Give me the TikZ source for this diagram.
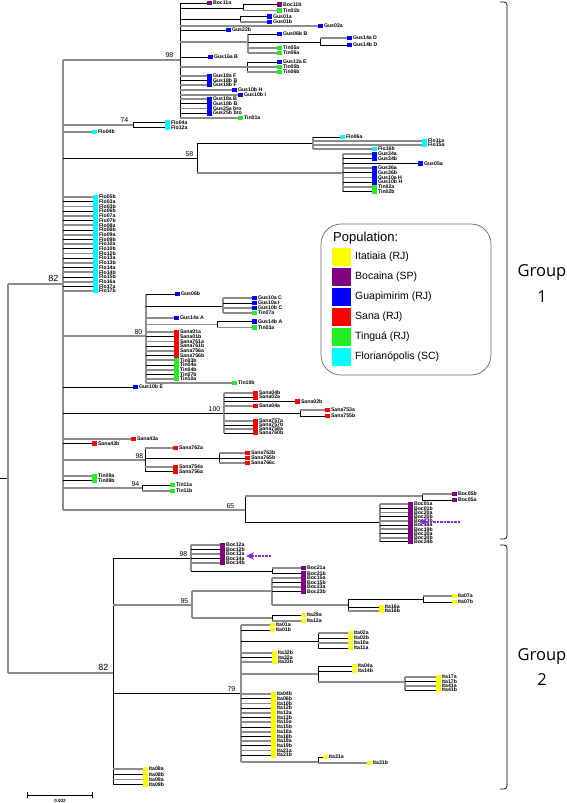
\documentclass[tikz,border=0pt]{standalone}
\usepackage{fontspec}
\setmainfont{Liberation Sans}
\newfontfamily\grpfont{Open Sans}
\usetikzlibrary{arrows.meta}
\definecolor{gline}{HTML}{8C8C8C}
\definecolor{cI}{HTML}{FFFF00}
\definecolor{cB}{HTML}{800080}
\definecolor{cG}{HTML}{0000FF}
\definecolor{cS}{HTML}{FF0000}
\definecolor{cT}{HTML}{22EE22}
\definecolor{cF}{HTML}{00FFFF}
\definecolor{arr}{HTML}{8A2BE2}
\newcounter{leafc}
\tikzset{
 blk/.style={black, line width=0.8pt},
 gry/.style={gline, line width=1.8pt},
 lab/.style={anchor=west, inner sep=0pt, font=\fontsize{5.2}{5}\selectfont\bfseries},
 bsl/.style={anchor=south east, inner sep=0.5pt, font=\fontsize{7}{7}\selectfont},
 bsbig/.style={anchor=south east, inner sep=0.5pt, font=\fontsize{9}{9}\selectfont},
 legtxt/.style={anchor=west, inner sep=0pt, font=\fontsize{10.5}{11}\selectfont},
 grp/.style={inner sep=0pt, font=\grpfont\fontsize{16.5}{17}\selectfont},
 markline/.style={arr, line width=1.3pt, dash pattern=on 2.5pt off 1pt},
}
\newcommand{\lf}[6]{%
 \draw[#1] (#2,#4) -- (#3,#4);
 \fill[#5] (#3,#4-2.4) rectangle (#3+5,#4+2.4);
 \stepcounter{leafc}%
 \node[lab] (leaf\arabic{leafc}) at (#3+5.8,#4) {#6};}
\newcommand{\vv}[4]{\draw[#1] (#2,#3) -- (#2,#4);}
\newcommand{\hh}[4]{\draw[#1] (#2,#4) -- (#3,#4);}
\newcommand{\lst}[6]{%
 \foreach \lab [count=\i from 0] in {#6} {%
   \pgfmathsetmacro\yy{#3+\i*#4}%
   \ifodd\i\relax \lf{blk}{#1}{#2}{\yy}{#5}{\lab}\else \lf{gry}{#1}{#2}{\yy}{#5}{\lab}\fi
 }}
% dashed arrow pointing left: start x, tip x, y
\newcommand{\markarrow}[3]{%
 \draw[markline] (#1,#3) -- (#2+6,#3);
 \fill[arr] (#2,#3) -- (#2+8,#3-3.8) -- (#2+6,#3) -- (#2+8,#3+3.8) -- cycle;}
\begin{document}
\begin{tikzpicture}[x=1pt,y=-1pt]
\useasboundingbox (0,0) rectangle (567,803);
% ---------- root ----------
\hh{blk}{0}{8}{478}
\vv{gry}{8}{284}{673}
\hh{gry}{8}{63}{284}
\hh{gry}{8}{113}{673}
\node[bsbig] (b82a) at (59,282) {82};
\node[bsbig] (b82b) at (109,671) {82};
\vv{gry}{63}{60}{510}
% ---------- clade 98 (top) ----------
\hh{gry}{63}{180}{60}
\node[bsl] (b98a) at (174,58) {98};
\vv{blk}{180}{3}{118}
\lf{blk}{180}{207}{3}{cB}{Boc11a}
\hh{blk}{180}{243}{8}
\vv{blk}{243}{4.5}{10.5}
\lf{blk}{243}{277}{4.5}{cB}{Boc11b}
\lf{gry}{243}{277}{10.5}{cT}{Tin01b}
\hh{blk}{180}{240}{19}
\vv{blk}{240}{16.5}{22}
\lf{blk}{240}{267}{16.5}{cG}{Gus01a}
\lf{gry}{240}{267}{22}{cG}{Gus01b}
\lf{gry}{180}{318}{26}{cG}{Gus02a}
\lf{blk}{180}{226}{30}{cG}{Gus22b}
\hh{gry}{180}{248}{42}
\vv{gry}{248}{34}{53}
\lf{blk}{248}{277}{34}{cG}{Gus06b B}
\hh{blk}{248}{320}{42}
\vv{blk}{320}{38}{45}
\lf{gry}{320}{347}{38}{cG}{Gus14a D}
\lf{blk}{320}{347}{45}{cG}{Gus14b D}
\lf{gry}{248}{277}{48}{cT}{Tin05a}
\lf{gry}{248}{277}{53}{cT}{Tin06a}
\lf{blk}{180}{208}{57}{cG}{Gus16a B}
\hh{gry}{180}{247}{67}
\vv{blk}{247}{62}{72}
\lf{blk}{247}{277}{62}{cG}{Gus12a E}
\lf{gry}{247}{277}{67}{cT}{Tin05b}
\lf{gry}{247}{277}{72}{cT}{Tin06b}
\lst{180}{207}{76}{4.5}{cG}{Gus18a F,Gus18b B,Gus18b F}
\lf{gry}{180}{232}{90}{cG}{Gus10b H}
\lf{gry}{180}{238}{95}{cG}{Gus10b I}
\lst{180}{207}{99}{4.7}{cG}{Gus18a B,Gus18b B,Gus25a bro,Gus25b bro}
\lf{gry}{180}{238}{118}{cT}{Tin01a}
% ---------- 74 ----------
\hh{gry}{63}{133}{125}
\node[bsl] (b74) at (129,123) {74};
\vv{blk}{133}{122.5}{127.5}
\lf{blk}{133}{165}{122.5}{cF}{Flo04a}
\lf{blk}{133}{165}{127.5}{cF}{Flo12a}
\lf{gry}{63}{92}{132}{cF}{Flo04b}
% ---------- 58 ----------
\hh{blk}{63}{197}{158}
\node[bsl] (b58) at (194,157) {58};
\vv{blk}{197}{143}{173}
\hh{blk}{197}{313}{143}
\vv{gry}{313}{137}{149}
\lf{blk}{313}{340}{137}{cF}{Flo06a}
\lf{gry}{313}{422}{141}{cF}{Flo11a}
\lf{gry}{313}{422}{145}{cF}{Flo15a}
\lf{gry}{313}{372}{149}{cF}{Flo16b}
\hh{gry}{197}{343}{173}
\vv{gry}{343}{154}{191.5}
\lst{343}{372}{154}{4.3}{cG}{Gus34a,Gus34b}
\lf{blk}{343}{418}{163.5}{cG}{Gus05a}
\lst{343}{372}{168}{4.7}{cG}{Gus36a,Gus36b,Gus10a H,Gus10b H}
\lst{343}{372}{187}{4.5}{cT}{Tin02a,Tin02b}
% ---------- Flo polytomy ----------
\lst{63}{93}{197}{4.7}{cF}{Flo05b,Flo03a,Flo03b,Flo06b,Flo07a,Flo07b,Flo08a,Flo08b,Flo09a,Flo09b,Flo10a,Flo10b,Flo12b,Flo13a,Flo13b,Flo14a,Flo14b,Flo15b,Flo16a,Flo17a,Flo17b}
% ---------- 80 ----------
\hh{gry}{63}{146}{336}
\node[bsl] (b80) at (143,335) {80};
\vv{gry}{146}{294}{383}
\lf{blk}{146}{175}{294}{cG}{Gus06b}
\hh{blk}{146}{223}{306}
\vv{gry}{223}{298}{313}
\lst{223}{252}{298}{5}{cG}{Gus10a C,Gus10a I,Gus10b C}
\lf{gry}{223}{252}{313}{cT}{Tin07a}
\lf{gry}{146}{174}{318}{cG}{Gus14a A}
\hh{gry}{146}{217}{324.5}
\vv{blk}{217}{321.5}{327.5}
\lf{blk}{217}{252}{321.5}{cG}{Gus14b A}
\lf{gry}{217}{252}{327.5}{cT}{Tin03a}
\lst{146}{174}{332}{4.7}{cS}{Sana01a,Sana01b,Sana761a,Sana761b,Sana756a,Sana756b}
\lst{146}{174}{360.2}{4.7}{cT}{Tin03b,Tin04a,Tin04b,Tin07b,Tin10a}
\lf{gry}{146}{232}{383}{cT}{Tin10b}
\lf{blk}{63}{133}{387}{cG}{Gus10b E}
% ---------- 100 ----------
\hh{blk}{63}{224}{413}
\node[bsl] (b100) at (221,412) {100};
\vv{gry}{224}{393}{433}
\lst{224}{253}{393}{4.2}{cS}{Sana04b,Sana02a}
\lf{blk}{224}{295}{401.5}{cS}{Sana02b}
\lf{gry}{224}{253}{406}{cS}{Sana04a}
\hh{blk}{224}{300}{413}
\vv{blk}{300}{410}{416}
\lf{gry}{300}{325}{410}{cS}{Sana753a}
\lf{blk}{300}{325}{416}{cS}{Sana755b}
\lst{224}{253}{421}{4}{cS}{Sana757a,Sana757b,Sana758a,Sana760b}
\lf{gry}{63}{131}{439}{cS}{Sana43a}
\lf{blk}{63}{92}{443.5}{cS}{Sana43b}
% ---------- 98 (Sana) ----------
\hh{gry}{63}{145}{460}
\node[bsl] (b98b) at (144,459) {98};
\vv{blk}{145}{448}{471.5}
\lf{gry}{145}{173}{448}{cS}{Sana762a}
\hh{blk}{145}{219}{458}
\vv{blk}{219}{453}{463}
\lst{219}{245}{453}{5}{cS}{Sana763b,Sana765b,Sana766c}
\lf{gry}{145}{173}{467}{cS}{Sana754a}
\lf{blk}{145}{173}{471.5}{cS}{Sana756a}
\lf{gry}{63}{92}{476}{cT}{Tin09a}
\lf{blk}{63}{92}{480.5}{cT}{Tin09b}
% ---------- 94 ----------
\hh{gry}{63}{142}{488}
\node[bsl] (b94) at (140,487) {94};
\vv{blk}{142}{485}{491}
\lf{blk}{142}{170}{485}{cT}{Tin11a}
\lf{gry}{142}{170}{491}{cT}{Tin11b}
% ---------- 65 ----------
\hh{gry}{63}{245}{510}
\node[bsl] (b65) at (235,509) {65};
\vv{blk}{245}{496}{522}
\hh{gry}{245}{422}{496}
\vv{blk}{422}{494}{500}
\lf{gry}{422}{452}{494}{cB}{Boc05b}
\lf{blk}{422}{452}{500}{cB}{Boc05a}
\hh{blk}{245}{380}{522}
\vv{gry}{380}{504}{541.8}
\lst{380}{408}{504}{4.2}{cB}{Boc01a,Boc01b,Boc20a,Boc20b,Boc13b,Boc19a,Boc19b,Boc30a,Boc30b,Boc24b}
\markarrow{460}{419}{522}
% ---------- Group 2 ----------
\vv{blk}{113}{558}{784.6}
\hh{blk}{113}{191}{558}
\node[bsl] (b98c) at (188,557) {98};
\vv{gry}{191}{545}{571}
\lst{191}{220}{545}{4.5}{cB}{Boc12a,Boc12b,Boc13a,Boc14a,Boc14b}
\markarrow{271}{246}{556}
\hh{blk}{191}{272}{571}
\vv{blk}{272}{568}{573.5}
\lf{gry}{272}{301}{568}{cB}{Boc21a}
\lf{blk}{272}{301}{573.5}{cB}{Boc21b}
% 95
\hh{gry}{113}{192}{605}
\node[bsl] (b95) at (189,604) {95};
\vv{gry}{192}{591}{618}
\hh{gry}{192}{272}{591}
\vv{gry}{272}{578}{605}
\lst{272}{301}{578}{4.5}{cB}{Boc15a,Boc15b,Boc23a,Boc23b}
\hh{gry}{272}{348}{605}
\vv{blk}{348}{599}{611}
\hh{blk}{348}{423}{599}
\vv{blk}{423}{596}{602}
\lf{gry}{423}{452}{596}{cI}{Ita07a}
\lf{blk}{423}{452}{602}{cI}{Ita07b}
\lf{blk}{348}{379}{607}{cI}{Ita16a}
\lf{gry}{348}{379}{611}{cI}{Ita16b}
\hh{gry}{192}{272}{618}
\vv{blk}{272}{615}{621}
\lf{blk}{272}{301}{615}{cI}{Ita29a}
\lf{gry}{272}{301}{621}{cI}{Ita12a}
% 79
\hh{blk}{113}{241}{693}
\node[bsl] (b79) at (236,692) {79};
\vv{gry}{241}{625}{762}
\lf{gry}{241}{270}{625}{cI}{Ita01a}
\lf{blk}{241}{270}{630}{cI}{Ita01b}
\hh{blk}{241}{318}{641}
\vv{blk}{318}{633}{648}
\lst{318}{348}{633}{5}{cI}{Ita02a,Ita02b,Ita10a,Ita11a}
\lst{241}{272}{653}{4.5}{cI}{Ita32b,Ita32a,Ita33b}
\hh{gry}{241}{318}{674}
\vv{blk}{318}{666}{682}
\lf{blk}{318}{352}{666}{cI}{Ita04a}
\lf{blk}{318}{352}{671}{cI}{Ita14b}
\hh{gry}{318}{405}{682}
\vv{gry}{405}{677}{690}
\lst{405}{436}{677}{4.3}{cI}{Ita17a,Ita17b,Ita41a,Ita41b}
\lst{241}{271}{694}{4.7}{cI}{Ita04b,Ita06b,Ita10b,Ita12b,Ita13a,Ita13b,Ita15a,Ita15b,Ita18a,Ita18b,Ita19a,Ita19b,Ita21a,Ita21b}
\hh{gry}{241}{318}{762}
\vv{blk}{318}{757}{763}
\lf{blk}{318}{323}{757}{cI}{Ita31a}
\lf{gry}{318}{367}{763}{cI}{Ita31b}
\lst{113}{143}{769}{5.2}{cI}{Ita08a,Ita08b,Ita09a,Ita09b}
% ---------- scale bar ----------
\coordinate (s1) at (27,795);
\coordinate (s2) at (92,795);
\draw[blk] (s1) -- (s2);
\draw[blk] (27,792) -- (27,798);
\draw[blk] (92,792) -- (92,798);
\node[inner sep=0pt, font=\fontsize{4.5}{5}\selectfont\bfseries] (sl) at (60,800.5) {0.002};
% ---------- legend ----------
\draw[black!60, line width=0.7pt, rounded corners=20pt] (321,224) rectangle (491,375);
\node[anchor=base west, inner sep=0pt, font=\fontsize{13}{14}\selectfont] (lt) at (333,241) {Population:};
\fill[cI] (332,248) rectangle (351,266);
\fill[cB] (332,268) rectangle (351,286);
\fill[cG] (332,288) rectangle (351,306);
\fill[cS] (332,308) rectangle (351,326);
\fill[cT] (332,328) rectangle (351,346);
\fill[cF] (332,348) rectangle (351,366);
\node[legtxt] (l1) at (355,257) {Itatiaia (RJ)};
\node[legtxt] (l2) at (355,277) {Bocaina (SP)};
\node[legtxt] (l3) at (355,297) {Guapimirim (RJ)};
\node[legtxt] (l4) at (355,317) {Sana (RJ)};
\node[legtxt] (l5) at (355,337) {Tinguá (RJ)};
\node[legtxt] (l6) at (355,357) {Florianópolis (SC)};
% ---------- group brackets ----------
\draw[black, line width=0.7pt, rounded corners=3pt] (500,2) -- (507,2) -- (507,539) -- (500,539);
\draw[black, line width=0.7pt, rounded corners=3pt] (500,545) -- (507,545) -- (507,789) -- (500,789);
\node[grp] (g1a) at (542,273) {Group};
\node[grp] (g1b) at (542,297) {1};
\node[grp] (g2a) at (542,656) {Group};
\node[grp] (g2b) at (542,680) {2};
\end{tikzpicture}
\end{document}
